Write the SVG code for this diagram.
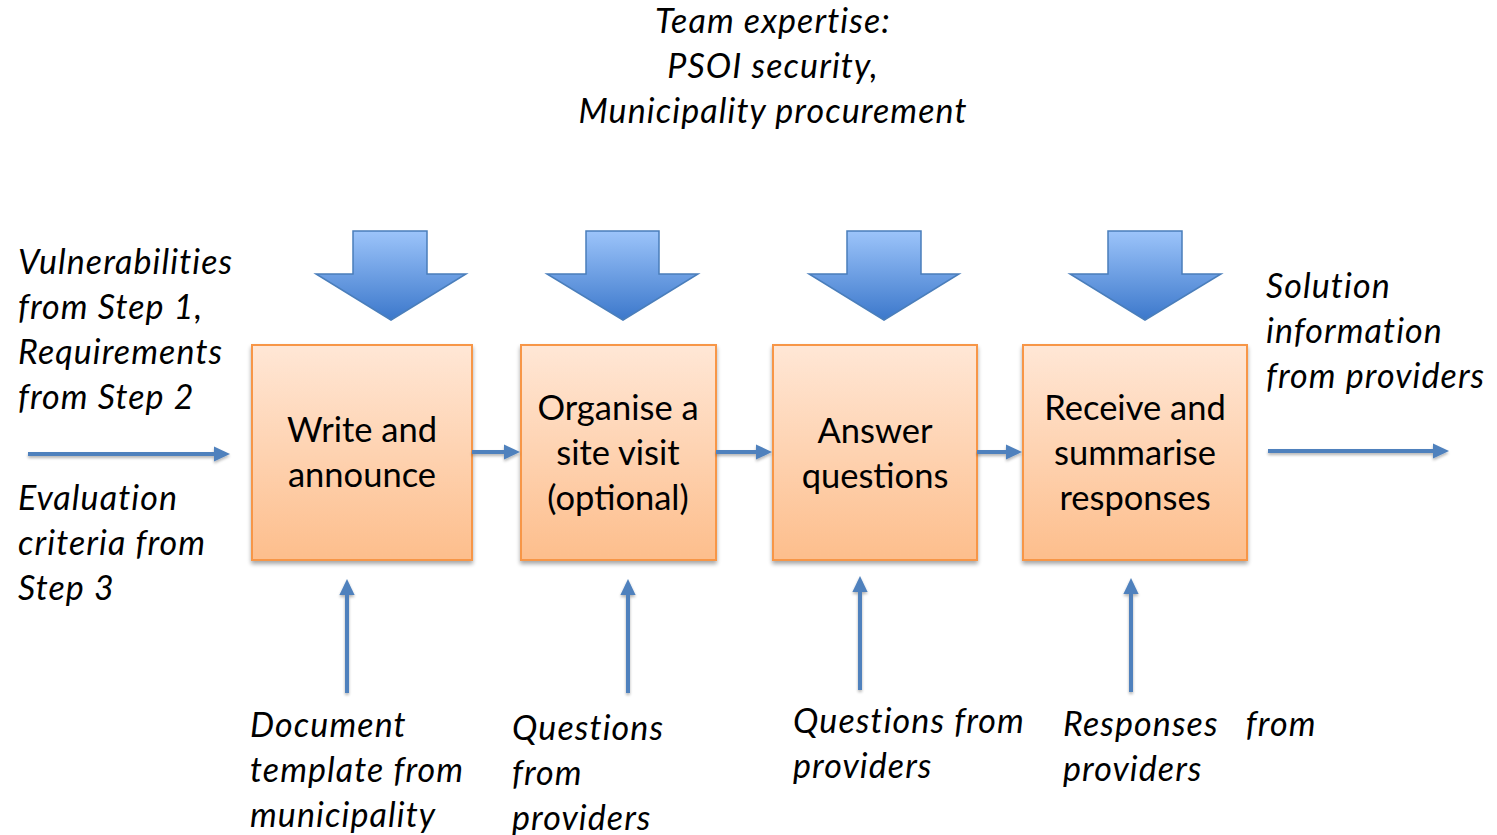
<svg xmlns="http://www.w3.org/2000/svg" width="1497" height="835" viewBox="0 0 1497 835">
<style>
.lbl{font-family:Lato,"Open Sans","Liberation Sans",sans-serif;font-style:italic;font-size:34px;letter-spacing:1.1px;fill:#000}
.ttl{text-anchor:middle}
.box{fill:url(#boxg);stroke:#F79646;stroke-width:2;filter:url(#sh)}
.btxt{font-family:Lato,"Open Sans","Liberation Sans",sans-serif;font-size:34.5px;fill:#000;text-anchor:middle}
.big{fill:url(#arrg);stroke:#4A7EBB;stroke-width:1.5}
.con{stroke:#4F81BD;stroke-width:4;fill:none;marker-end:url(#ah)}
</style>
<defs>
<linearGradient id="boxg" x1="0" y1="0" x2="0" y2="1">
<stop offset="0" stop-color="#FFE7D6"/>
<stop offset="1" stop-color="#FDBE8C"/>
</linearGradient>
<linearGradient id="arrg" x1="0" y1="0" x2="0" y2="1">
<stop offset="0" stop-color="#9CC4FA"/>
<stop offset="1" stop-color="#3C78CB"/>
</linearGradient>
<filter id="sh" x="-10%" y="-10%" width="130%" height="130%">
<feGaussianBlur in="SourceAlpha" stdDeviation="2"/>
<feOffset dx="0" dy="3" result="b"/>
<feComponentTransfer><feFuncA type="linear" slope="0.35"/></feComponentTransfer>
<feMerge><feMergeNode/><feMergeNode in="SourceGraphic"/></feMerge>
</filter>
<filter id="sh2" filterUnits="userSpaceOnUse" x="0" y="0" width="1497" height="835">
<feGaussianBlur in="SourceAlpha" stdDeviation="1.5"/>
<feOffset dx="0" dy="2" result="b"/>
<feComponentTransfer><feFuncA type="linear" slope="0.3"/></feComponentTransfer>
<feMerge><feMergeNode/><feMergeNode in="SourceGraphic"/></feMerge>
</filter>
<marker id="ah" markerWidth="5" markerHeight="5" refX="1" refY="2.5" orient="auto" markerUnits="strokeWidth">
<path d="M0,0.6 L4,2.5 L0,4.4 Z" fill="#4F81BD"/>
</marker>
</defs>

<g id="title">
<text class="lbl ttl" x="773" y="33">Team expertise:</text>
<text class="lbl ttl" x="773" y="78">PSOI security,</text>
<text class="lbl ttl" x="773" y="123">Municipality procurement</text>
</g>

<g id="expertise-arrows">
<path class="big" d="M353,231 H427 V274 H466 L391,320 L316,274 H353 Z"/>
<path class="big" d="M586,231 H659 V274 H698 L623,320 L547,274 H586 Z"/>
<path class="big" d="M847,231 H921 V274 H959 L884,320 L809,274 H847 Z"/>
<path class="big" d="M1108,231 H1182 V274 H1221 L1145,320 L1070,274 H1108 Z"/>
</g>

<g id="node-write">
<rect class="box" x="252" y="345" width="220" height="215"/>
<text class="btxt" x="362" y="442">Write and</text>
<text class="btxt" x="362" y="487">announce</text>
</g>
<g id="node-visit">
<rect class="box" x="521" y="345" width="195" height="215"/>
<text class="btxt" x="618" y="420">Organise a</text>
<text class="btxt" x="618" y="465">site visit</text>
<text class="btxt" x="618" y="510">(optional)</text>
</g>
<g id="node-answer">
<rect class="box" x="773" y="345" width="204" height="215"/>
<text class="btxt" x="875" y="443">Answer</text>
<text class="btxt" x="875" y="488">questions</text>
</g>
<g id="node-receive">
<rect class="box" x="1023" y="345" width="224" height="215"/>
<text class="btxt" x="1135" y="420">Receive and</text>
<text class="btxt" x="1135" y="465">summarise</text>
<text class="btxt" x="1135" y="510">responses</text>
</g>

<g id="connectors" filter="url(#sh2)">
<line class="con" x1="28" y1="454" x2="218" y2="454"/>
<line class="con" x1="472" y1="452" x2="508" y2="452"/>
<line class="con" x1="716" y1="452" x2="760" y2="452"/>
<line class="con" x1="977" y1="452" x2="1010" y2="452"/>
<line class="con" x1="1268" y1="451" x2="1437" y2="451"/>
<line class="con" x1="347" y1="693" x2="347" y2="591"/>
<line class="con" x1="628" y1="693" x2="628" y2="591"/>
<line class="con" x1="860" y1="690" x2="860" y2="588"/>
<line class="con" x1="1131" y1="692" x2="1131" y2="590"/>
</g>

<g id="input-left">
<text class="lbl" x="18" y="274">Vulnerabilities</text>
<text class="lbl" x="18" y="319">from Step 1,</text>
<text class="lbl" x="18" y="364">Requirements</text>
<text class="lbl" x="18" y="409">from Step 2</text>
<text class="lbl" x="18" y="510">Evaluation</text>
<text class="lbl" x="18" y="555">criteria from</text>
<text class="lbl" x="18" y="600">Step 3</text>
</g>
<g id="output-right">
<text class="lbl" x="1266" y="298">Solution</text>
<text class="lbl" x="1266" y="343">information</text>
<text class="lbl" x="1266" y="388">from providers</text>
</g>
<g id="bottom-labels">
<text class="lbl" x="250" y="737">Document</text>
<text class="lbl" x="250" y="782">template from</text>
<text class="lbl" x="250" y="827">municipality</text>
<text class="lbl" x="512" y="740">Questions</text>
<text class="lbl" x="512" y="785">from</text>
<text class="lbl" x="512" y="830">providers</text>
<text class="lbl" x="793" y="733">Questions from</text>
<text class="lbl" x="793" y="778">providers</text>
<text class="lbl" x="1063" y="736" xml:space="preserve">Responses   from</text>
<text class="lbl" x="1063" y="781">providers</text>
</g>
</svg>
